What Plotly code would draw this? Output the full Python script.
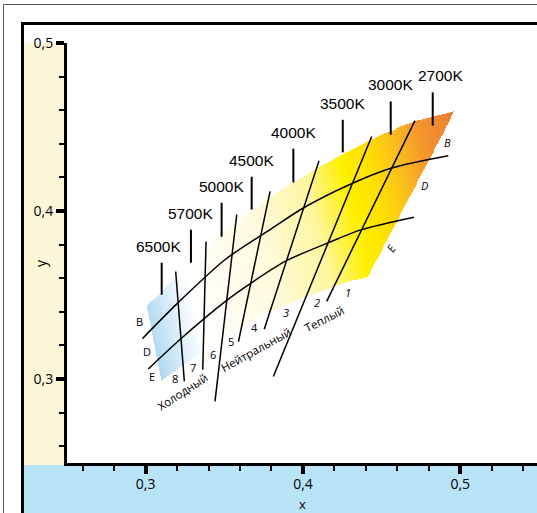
import numpy as np
import plotly.graph_objects as go

# ---------------- data (CIE x, y chromaticity) ----------------
# CCT marker ticks above the bins
cct_labels = ["6500K", "5700K", "5000K", "4500K", "4000K", "3500K", "3000K", "2700K"]
cct_x = [0.3102, 0.3288, 0.3483, 0.3674, 0.3939, 0.4253, 0.4558, 0.4825]
cct_y_top = [0.3692, 0.3889, 0.4049, 0.4204, 0.4371, 0.4543, 0.4652, 0.4706]
cct_y_bot = [0.3502, 0.3692, 0.3847, 0.4008, 0.4170, 0.4349, 0.4454, 0.4508]

# numbered bin boundary lines (upper end -> lower end)
line_x_top = [0.3191, 0.3384, 0.3579, 0.3791, 0.4102, 0.4437, 0.4712]
line_y_top = [0.3640, 0.3819, 0.3978, 0.4117, 0.4299, 0.4444, 0.4538]
line_x_bot = [0.3246, 0.3363, 0.3441, 0.3590, 0.3754, 0.3812, 0.4151]
line_y_bot = [0.2986, 0.3055, 0.2867, 0.3222, 0.3296, 0.3015, 0.3462]

# bin number labels
num_labels = ["8", "7", "6", "5", "4", "3", "2", "1"]
num_x = [0.3187, 0.3303, 0.3430, 0.3543, 0.3692, 0.3892, 0.4087, 0.4288]
num_y = [0.3002, 0.3071, 0.3143, 0.3222, 0.3304, 0.3393, 0.3455, 0.3512]

# B/D and D/E boundary curves
upper_x = [0.2979, 0.3208, 0.3504, 0.3791, 0.4002, 0.4305, 0.4564, 0.4924]
upper_y = [0.3240, 0.3456, 0.3710, 0.3889, 0.4018, 0.4161, 0.4256, 0.4329]
lower_x = [0.3017, 0.3229, 0.3515, 0.3670, 0.3886, 0.4161, 0.4373, 0.4706]
lower_y = [0.3060, 0.3244, 0.3468, 0.3571, 0.3700, 0.3811, 0.3889, 0.3963]

# outline of the coloured region
region_x = [0.3009, 0.3193, 0.3384, 0.3581, 0.3791, 0.3918, 0.4096, 0.4255, 0.4490,
            0.4712, 0.4960, 0.4414, 0.4280, 0.4013, 0.3886, 0.3740, 0.3473, 0.3282, 0.3098]
region_y = [0.3436, 0.3603, 0.3782, 0.3936, 0.4079, 0.4157, 0.4258, 0.4341, 0.4454,
            0.4532, 0.4591, 0.3609, 0.3579, 0.3490, 0.3436, 0.3383, 0.3228, 0.3109, 0.2984]

# band letters
band_left = ["B", "D", "E"]
band_left_x = [0.2964, 0.3011, 0.3042]
band_left_y = [0.3343, 0.3164, 0.3015]
band_right = ["B", "D", "E"]
band_right_x = [0.4920, 0.4770, 0.4564]
band_right_y = [0.4408, 0.4151, 0.3780]

# group names
group_names = ["Холодный", "Нейтральный", "Теплый"]
group_x = [0.3237, 0.3702, 0.4140]
group_y = [0.2924, 0.3174, 0.3359]
group_angle = [-33, -29, -27]

# axes
x_ticks = [0.3, 0.4, 0.5]
x_ticktext = ["0,3", "0,4", "0,5"]
y_ticks = [0.3, 0.4, 0.5]
y_ticktext = ["0,3", "0,4", "0,5"]
x_minor = [0.26, 0.28, 0.32, 0.34, 0.36, 0.38, 0.42, 0.44, 0.46, 0.48, 0.52, 0.54]
y_minor = [0.26, 0.28, 0.32, 0.34, 0.36, 0.38, 0.42, 0.44, 0.46, 0.48]

X_RANGE = [0.25, 0.25 + 470 / 1573]
Y_RANGE = [0.25, 0.5]

# ---------------- gradient fill (heatmap masked by region outline) ----------------
gx = np.arange(0.296, 0.500, 0.0006)
gy = np.arange(0.294, 0.462, 0.0006)
GX, GY = np.meshgrid(gx, gy)


def inside(px, py, vx, vy):
    res = np.zeros(px.shape, dtype=bool)
    n = len(vx)
    j = n - 1
    for i in range(n):
        xi, yi, xj, yj = vx[i], vy[i], vx[j], vy[j]
        cond = ((yi > py) != (yj > py)) & (px < (xj - xi) * (py - yi) / (yj - yi + 1e-12) + xi)
        res ^= cond
        j = i
    return res


mask = inside(GX, GY, region_x, region_y)
G = (GX - 0.25) + 0.267 * (GY - 0.25)
Z = np.where(mask, np.round(G, 4), np.nan)

colorscale = [
    [0.0, "rgb(168,212,238)"],
    [0.065, "rgb(205,232,247)"],
    [0.15, "rgb(255,255,255)"],
    [0.375, "rgb(255,251,222)"],
    [0.537, "rgb(255,246,160)"],
    [0.645, "rgb(255,240,0)"],
    [0.72, "rgb(255,224,0)"],
    [0.79, "rgb(252,196,25)"],
    [0.88, "rgb(244,150,45)"],
    [1.0, "rgb(239,120,50)"],
]

fig = go.Figure()
fig.add_trace(go.Heatmap(x=gx, y=gy, z=Z, zmin=0.07, zmax=0.305, colorscale=colorscale,
                         showscale=False, hoverinfo="skip", zsmooth=False))

# boundary curves
fig.add_trace(go.Scatter(x=upper_x, y=upper_y, mode="lines",
                         line=dict(color="black", width=1.5, shape="spline", smoothing=0.8),
                         hoverinfo="skip", showlegend=False))
fig.add_trace(go.Scatter(x=lower_x, y=lower_y, mode="lines",
                         line=dict(color="black", width=1.5, shape="spline", smoothing=0.8),
                         hoverinfo="skip", showlegend=False))

# numbered lines
for xt, yt, xb, yb in zip(line_x_top, line_y_top, line_x_bot, line_y_bot):
    fig.add_trace(go.Scatter(x=[xt, xb], y=[yt, yb], mode="lines",
                             line=dict(color="black", width=1.5),
                             hoverinfo="skip", showlegend=False))

# CCT ticks + labels
label_xshift = {"6500K": -3, "2700K": 8}
for lab, cx, yt, yb in zip(cct_labels, cct_x, cct_y_top, cct_y_bot):
    fig.add_trace(go.Scatter(x=[cx, cx], y=[yb, yt], mode="lines",
                             line=dict(color="black", width=2),
                             hoverinfo="skip", showlegend=False))
    fig.add_annotation(x=cx, y=yt, text=lab, showarrow=False, xanchor="center",
                       yanchor="bottom", yshift=6, xshift=label_xshift.get(lab, 0),
                       font=dict(family="Liberation Sans", size=15.5, color="black"))

small_font = dict(family="Open Sans", size=11, color="black")
for lab, nx, ny in zip(num_labels, num_x, num_y):
    txt = lab if lab not in ("1", "2", "3") else "<i>" + lab + "</i>"
    fig.add_annotation(x=nx, y=ny, text=txt, showarrow=False, xanchor="center",
                       yanchor="middle", font=small_font)

for lab, bx, by in zip(band_left, band_left_x, band_left_y):
    fig.add_annotation(x=bx, y=by, text=lab, showarrow=False, xanchor="center",
                       yanchor="middle", font=small_font)
for lab, bx, by, ang in zip(band_right, band_right_x, band_right_y, [0, 0, -60]):
    fig.add_annotation(x=bx, y=by, text="<i>" + lab + "</i>", showarrow=False,
                       xanchor="center", yanchor="middle", textangle=ang, font=small_font)

for lab, gxp, gyp, ang in zip(group_names, group_x, group_y, group_angle):
    fig.add_annotation(x=gxp, y=gyp, text=lab, showarrow=False, xanchor="center",
                       yanchor="middle", textangle=ang,
                       font=dict(family="Open Sans", size=11.5, color="black"))

# axis titles
fig.add_annotation(x=0.4, xref="x", y=-0.0965, yref="paper", text="x", showarrow=False,
                   xanchor="center", yanchor="middle", borderpad=0,
                   font=dict(family="Open Sans", size=13, color="black"))
fig.add_annotation(x=-0.0574, xref="paper", y=0.369, yref="y", text="y", showarrow=False,
                   xanchor="center", yanchor="middle", textangle=-90, borderpad=0,
                   font=dict(family="Open Sans", size=14, color="black"))


# ---------------- decorative frame ----------------
def xp(px):
    return (px - 67) / 470


def yp(py):
    return (463 - py) / 420


shapes = [
    dict(type="rect", xref="paper", yref="paper", x0=xp(23), x1=xp(600), y0=yp(465), y1=yp(600),
         fillcolor="#B9E3F7", line=dict(width=0), layer="below"),
    dict(type="rect", xref="paper", yref="paper", x0=xp(23), x1=xp(67), y0=yp(43), y1=yp(465),
         fillcolor="#FCF7DA", line=dict(width=0), layer="below"),
    dict(type="rect", xref="paper", yref="paper", x0=xp(3.5), x1=xp(600), y0=yp(4.5), y1=yp(600),
         fillcolor="rgba(0,0,0,0)", line=dict(color="#555555", width=1)),
    dict(type="rect", xref="paper", yref="paper", x0=xp(22.5), x1=xp(600), y0=yp(23.5), y1=yp(600),
         fillcolor="rgba(0,0,0,0)", line=dict(color="black", width=3)),
]

axis_font = dict(family="Open Sans", size=14, color="black")
fig.update_layout(
    width=537, height=513,
    margin=dict(l=67, r=0, t=43, b=50, pad=0),
    paper_bgcolor="white", plot_bgcolor="white",
    showlegend=False,
    shapes=shapes,
    xaxis=dict(range=X_RANGE, showgrid=False, zeroline=False, showline=True,
               linecolor="black", linewidth=3, ticks="outside", ticklen=8, tickwidth=3.5,
               tickcolor="black", tickvals=x_ticks, ticktext=x_ticktext, tickfont=axis_font,
               ticklabelstandoff=-2,
               minor=dict(tickvals=x_minor, ticks="outside", ticklen=5, tickwidth=2,
                          tickcolor="black", showgrid=False)),
    yaxis=dict(range=Y_RANGE, showgrid=False, zeroline=False, showline=True,
               linecolor="black", linewidth=3, ticks="outside", ticklen=8, tickwidth=3.5,
               tickcolor="black", tickvals=y_ticks, ticktext=y_ticktext, tickfont=axis_font,
               minor=dict(tickvals=y_minor, ticks="outside", ticklen=5, tickwidth=2,
                          tickcolor="black", showgrid=False)),
)

fig.write_html(
    "out.html",
    config={"displayModeBar": False},
    post_script="document.body.style.margin='0';document.body.style.padding='0';"
                "document.body.style.overflow='hidden';"
                "document.documentElement.style.overflow='hidden';",
)
